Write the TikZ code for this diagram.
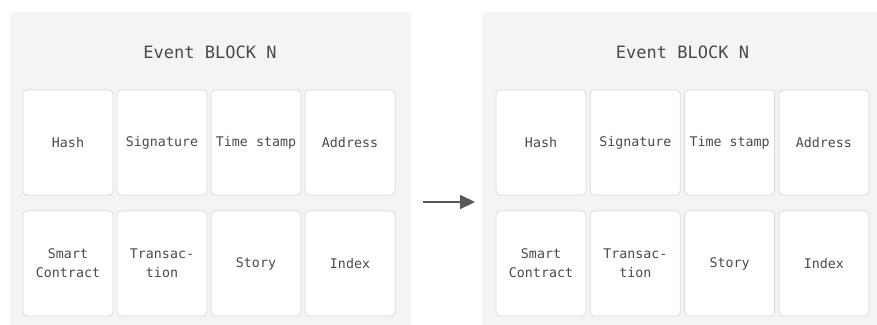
\documentclass[tikz,border=0pt]{standalone}
\usepackage{fontspec}
\setmonofont{DejaVu Sans Mono}
\usetikzlibrary{arrows.meta}
\definecolor{panelfill}{HTML}{F4F4F4}
\definecolor{cellline}{HTML}{DADADA}
\definecolor{txt}{HTML}{4A4A4A}
\definecolor{arrowc}{HTML}{585858}
\tikzset{
  panel/.style={fill=panelfill, draw=none, rounded corners=6pt},
  cell/.style={draw=cellline, fill=white, line width=0.8pt, rounded corners=4pt,
    minimum width=90pt, minimum height=105pt, inner sep=0pt, align=center,
    font=\ttfamily\fontsize{13.3}{19}\selectfont, text=txt},
  titletext/.style={font=\ttfamily\fontsize{17}{20}\selectfont, text=txt},
  conn/.style={draw=arrowc, line width=2pt, -{Triangle[length=15pt,width=14pt]}}
}
\begin{document}
\begin{tikzpicture}[x=1pt,y=-1pt]
\useasboundingbox (0,0) rectangle (877,324);
\clip (0,0) rectangle (877,324);
% panels
\fill[panel] (10,12) rectangle (411,340);
\fill[panel] (482,12) rectangle (890,340);
% titles
\node[titletext] (t1) at (210,52) {Event BLOCK N};
\node[titletext] (t2) at (682.5,52) {Event BLOCK N};
% left cells
\node[cell] (a1) at (68,142.5) {Hash};
\node[cell] (a2) at (162,142.5) {Signature};
\node[cell] (a3) at (256,142.5) {Time stamp};
\node[cell] (a4) at (350,142.5) {Address};
\node[cell] (a5) at (68,263.5) {Smart\\Contract};
\node[cell] (a6) at (162,263.5) {Transac-\\tion};
\node[cell] (a7) at (256,263.5) {Story};
\node[cell] (a8) at (350,263.5) {Index};
% right cells
\node[cell] (b1) at (541,142.5) {Hash};
\node[cell] (b2) at (635.3,142.5) {Signature};
\node[cell] (b3) at (729.6,142.5) {Time stamp};
\node[cell] (b4) at (823.9,142.5) {Address};
\node[cell] (b5) at (541,263.5) {Smart\\Contract};
\node[cell] (b6) at (635.3,263.5) {Transac-\\tion};
\node[cell] (b7) at (729.6,263.5) {Story};
\node[cell] (b8) at (823.9,263.5) {Index};
% arrow
\coordinate (s) at (423,202);
\coordinate (e) at (475,202);
\draw[conn] (s) -- (e);
\end{tikzpicture}
\end{document}
